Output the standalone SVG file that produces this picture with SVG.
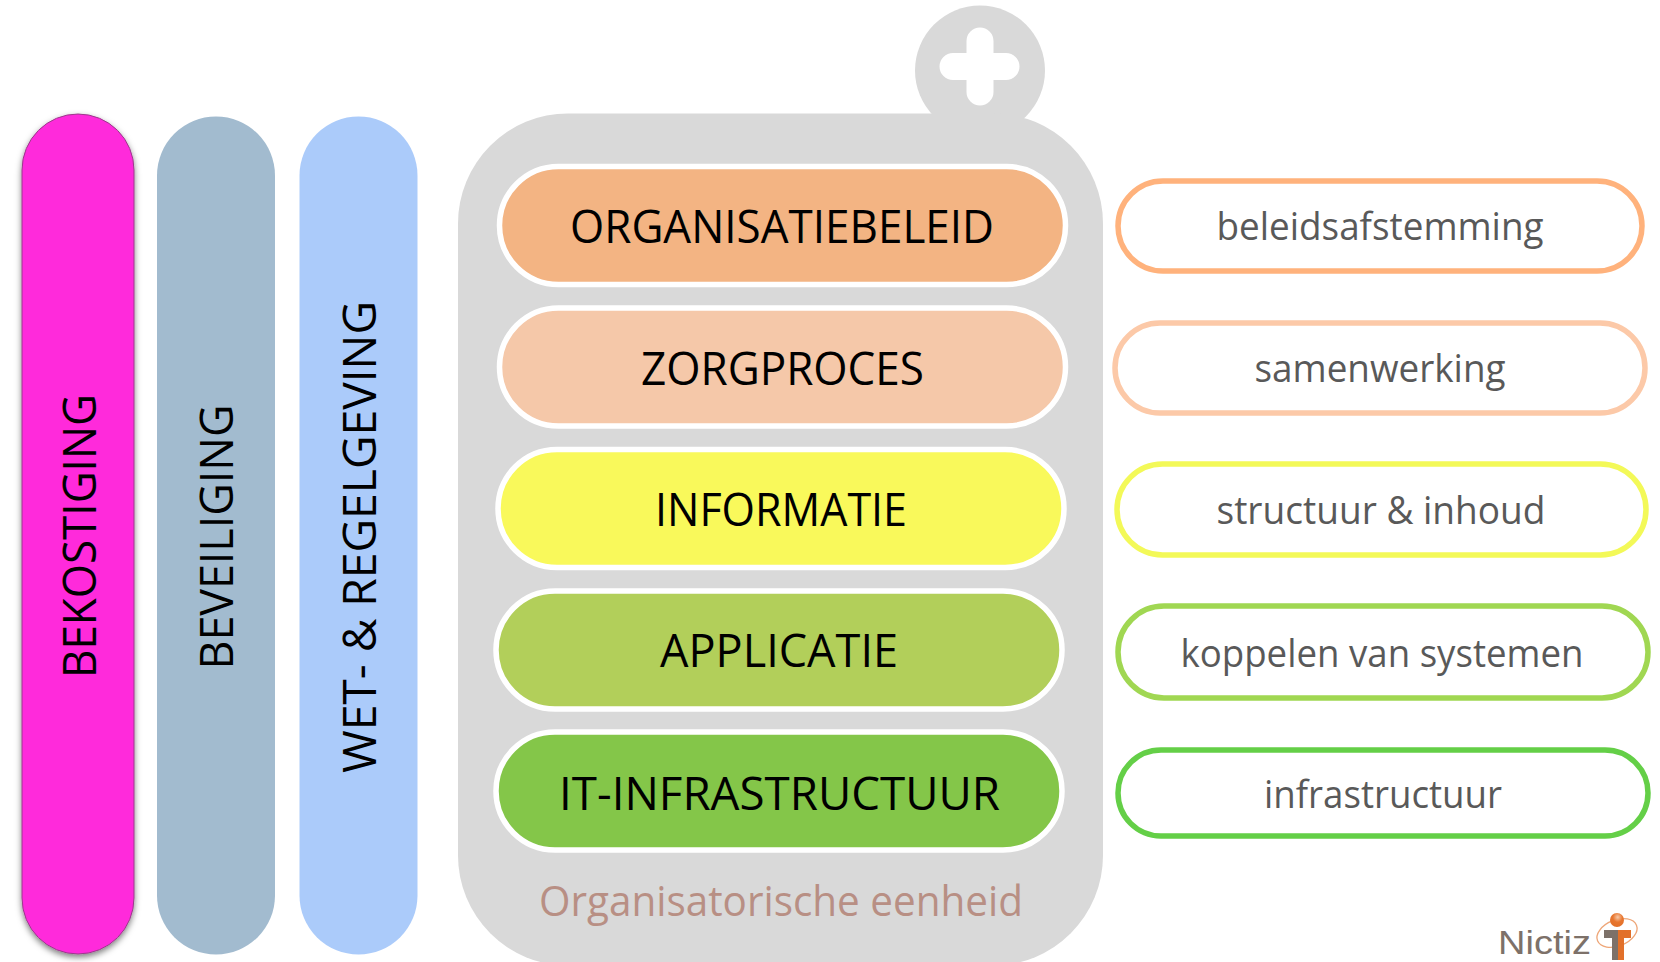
<svg xmlns="http://www.w3.org/2000/svg" width="1660" height="962" viewBox="0 0 1660 962">
<defs>
<filter id="sh" x="-20%" y="-5%" width="140%" height="112%"><feDropShadow dx="0" dy="3" stdDeviation="3" flood-color="#000" flood-opacity="0.5"/></filter>
<radialGradient id="ball" cx="0.55" cy="0.3" r="0.7"><stop offset="0" stop-color="#f7c9a8"/><stop offset="0.5" stop-color="#e8762f"/><stop offset="1" stop-color="#e2702a"/></radialGradient>
</defs>
<style>
.bar{stroke:#fff;stroke-width:5.500}
.lbl{font-family:"Open Sans","Noto Sans",sans-serif;fill:#000;text-anchor:middle}
.big{font-size:46px}
.out{fill:#fff;stroke-width:5.500}
.sub{font-family:"Open Sans","Noto Sans",sans-serif;fill:#595959;font-size:38px;text-anchor:middle}
</style>
<rect width="1660" height="962" fill="#fff"/>
<g id="bekostiging"><rect x="22" y="114" width="112" height="840" rx="56" fill="#ff2adb" stroke="#9a3a8a" stroke-width="1" filter="url(#sh)"/><text class="lbl big" transform="translate(96,536) rotate(-90)" textLength="284" lengthAdjust="spacingAndGlyphs">BEKOSTIGING</text></g>
<g id="beveiliging"><rect x="157" y="116.500" width="118" height="838" rx="59" fill="#a2bbcf"/><text class="lbl big" transform="translate(233,537) rotate(-90)" textLength="265" lengthAdjust="spacingAndGlyphs">BEVEILIGING</text></g>
<g id="wet"><rect x="299.500" y="116.500" width="118" height="838" rx="59" fill="#abcbfa"/><text class="lbl big" transform="translate(376,537) rotate(-90)" textLength="472" lengthAdjust="spacingAndGlyphs">WET- &amp; REGELGEVING</text></g>
<g id="organisatorische-eenheid">
<circle cx="980" cy="70.500" r="65" fill="#d9d9d9"/>
<rect x="458" y="113.500" width="645" height="852" rx="110" fill="#d9d9d9"/>
<path d="M980 41V92M953 66.500H1006" stroke="#fff" stroke-width="27" stroke-linecap="round" fill="none"/>
<text x="781" y="916" font-family="Open Sans,Noto Sans,sans-serif" font-size="42" fill="#b88f84" text-anchor="middle" textLength="484" lengthAdjust="spacingAndGlyphs">Organisatorische eenheid</text>
</g>
<g id="organisatiebeleid"><rect class="bar" x="499.500" y="166.500" width="566" height="118" rx="59" fill="#f3b483"/><text class="lbl big" x="782" y="243" textLength="424" lengthAdjust="spacingAndGlyphs">ORGANISATIEBELEID</text></g>
<g id="zorgproces"><rect class="bar" x="499.500" y="308" width="566" height="118" rx="59" fill="#f5c8a9"/><text class="lbl big" x="782.500" y="385" textLength="283" lengthAdjust="spacingAndGlyphs">ZORGPROCES</text></g>
<g id="informatie"><rect class="bar" x="498" y="449.500" width="566" height="118" rx="59" fill="#f9f95b"/><text class="lbl big" x="781" y="526" textLength="252" lengthAdjust="spacingAndGlyphs">INFORMATIE</text></g>
<g id="applicatie"><rect class="bar" x="496" y="591" width="566" height="118" rx="59" fill="#b2cf5a"/><text class="lbl big" x="779" y="667" textLength="238" lengthAdjust="spacingAndGlyphs">APPLICATIE</text></g>
<g id="it-infrastructuur"><rect class="bar" x="496" y="732" width="566" height="118" rx="59" fill="#84c649"/><text class="lbl big" x="779.500" y="810" textLength="441" lengthAdjust="spacingAndGlyphs">IT-INFRASTRUCTUUR</text></g>
<g id="beleidsafstemming"><rect class="out" x="1118" y="181" width="524" height="90" rx="45" stroke="#ffb27c"/><text class="sub" x="1380" y="240" textLength="327" lengthAdjust="spacingAndGlyphs">beleidsafstemming</text></g>
<g id="samenwerking"><rect class="out" x="1115" y="323" width="530" height="90" rx="45" stroke="#fcc9a8"/><text class="sub" x="1380" y="382" textLength="251" lengthAdjust="spacingAndGlyphs">samenwerking</text></g>
<g id="structuur"><rect class="out" x="1117" y="464" width="529" height="91" rx="45.500" stroke="#f3f958"/><text class="sub" x="1381" y="524" textLength="329" lengthAdjust="spacingAndGlyphs">structuur &amp; inhoud</text></g>
<g id="koppelen"><rect class="out" x="1118" y="606" width="530" height="92" rx="46" stroke="#a0d752"/><text class="sub" x="1382" y="667" textLength="403" lengthAdjust="spacingAndGlyphs">koppelen van systemen</text></g>
<g id="infrastructuur"><rect class="out" x="1118" y="750" width="530" height="86" rx="43" stroke="#64cf47"/><text class="sub" x="1383" y="808" textLength="238" lengthAdjust="spacingAndGlyphs">infrastructuur</text></g>
<g id="logo">
<text x="1498" y="954" font-family="Liberation Sans,sans-serif" font-size="33" fill="#7d7169" textLength="93" lengthAdjust="spacingAndGlyphs">Nictiz</text>
<ellipse cx="1617" cy="933" rx="21" ry="13" transform="rotate(-22 1617 933)" fill="none" stroke="#eea678" stroke-width="1.300"/>
<path d="M1604 930H1618V960H1612V938H1604Z" fill="#7d7169"/>
<path d="M1618 930H1631V938H1624V960H1618Z" fill="#e2702a"/>
<circle cx="1617" cy="920" r="7" fill="url(#ball)"/>
</g>
<g id="connectors"/>
</svg>
